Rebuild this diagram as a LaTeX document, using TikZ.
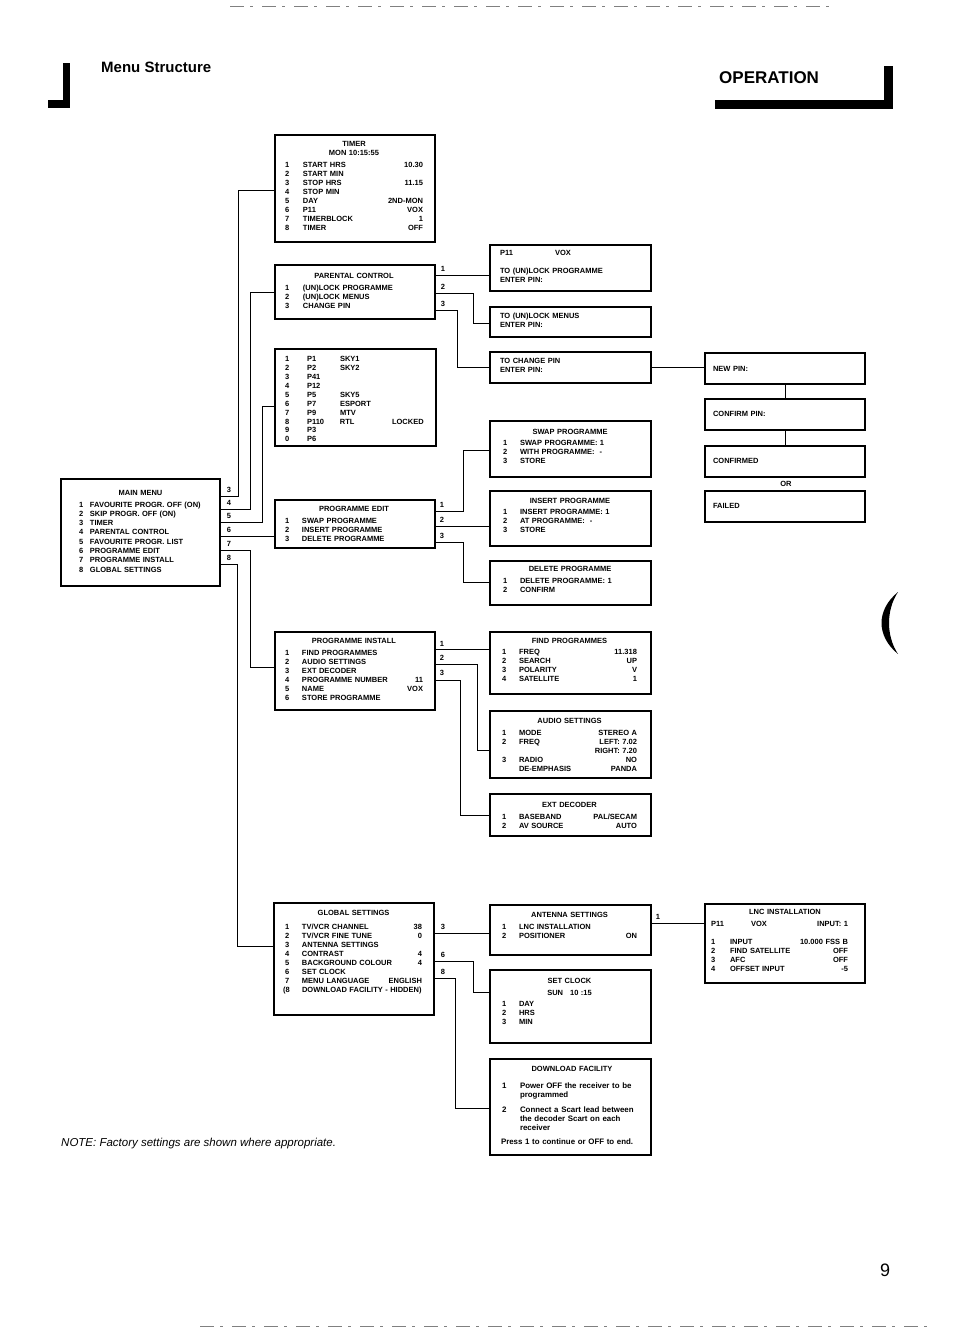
\documentclass[tikz,border=0pt]{standalone}
\usepackage{fontspec}
\setmainfont{Liberation Sans}
\newlength\nw
\newcommand\st{\rule{0pt}{6pt}}
\newcommand\rw[3]{\makebox[\nw][l]{#1}#2\hfill#3}
\newcommand\ttl[1]{\makebox[\linewidth][c]{#1}}
\newcommand\ch[4]{\makebox[22pt][l]{#1}\makebox[33pt][l]{#2}\makebox[52pt][l]{#3}#4}
\tikzset{
  bx/.style={draw, line width=1.5pt, anchor=north west, inner sep=0pt, outer sep=0pt},
  tx/.style={anchor=north west, inner sep=0pt, outer sep=0pt, align=left, font=\fontsize{7.5}{9}\selectfont\bfseries},
  lbl/.style={inner sep=0pt, font=\fontsize{7.5}{9}\selectfont\bfseries},
  conn/.style={line width=0.9pt},
}
\begin{document}
\begin{tikzpicture}[x=1pt,y=-1pt]
\fill[white] (0,0) rectangle (954,1340);
\useasboundingbox (0,0) rectangle (954,1340);

% ---------- header ----------
\fill (63,63) rectangle (70,108);
\fill (48,100) rectangle (70,108);
\fill (884,66) rectangle (893,109);
\fill (715,100) rectangle (893,109);
\node[anchor=west, inner sep=0pt, font=\fontsize{15}{15}\selectfont\bfseries] (hdr) at (101,67) {Menu Structure};
\node[anchor=west, inner sep=0pt, font=\fontsize{17}{17}\selectfont\bfseries] (oper) at (719,78) {OPERATION};
\draw[gray, line width=0.6pt, dash pattern=on 14pt off 6pt on 3pt off 9pt] (230,6) -- (835,6);
\draw[gray, line width=0.6pt, dash pattern=on 14pt off 6pt on 3pt off 9pt] (200,1326) -- (935,1326);
\fill (898,592) .. controls (876,610) and (876,636) .. (898,654) .. controls (886,636) and (886,610) .. (898,592);

% ---------- left column ----------
\node[bx,minimum width=160,minimum height=107] (timer) at (275,135) {};
\node[tx,text width=138] (timer-t) at (285,140.7) {\setlength\nw{18pt}\st\ttl{TIMER}\\ \ttl{MON 10:15:55}\\[3pt]
\rw{1}{START HRS}{10.30}\\ \rw{2}{START MIN}{}\\ \rw{3}{STOP HRS}{11.15}\\ \rw{4}{STOP MIN}{}\\
\rw{5}{DAY}{2ND-MON}\\ \rw{6}{P11}{VOX}\\ \rw{7}{TIMERBLOCK}{1}\\ \rw{8}{TIMER}{OFF}};

\node[bx,minimum width=160,minimum height=54] (parental) at (275,265) {};
\node[tx,text width=138] (parental-t) at (285,272.7) {\setlength\nw{18pt}\st\ttl{PARENTAL CONTROL}\\[3pt]
\rw{1}{(UN)LOCK PROGRAMME}{}\\ \rw{2}{(UN)LOCK MENUS}{}\\ \rw{3}{CHANGE PIN}{}};

\node[bx,minimum width=161,minimum height=97] (chan) at (275,349) {};
\node[tx,text width=138,font=\fontsize{7.5}{8.9}\selectfont\bfseries] (chan-t) at (285,355.7) {\st\ch{1}{P1}{SKY1}{}\\
\ch{2}{P2}{SKY2}{}\\ \ch{3}{P41}{}{}\\ \ch{4}{P12}{}{}\\ \ch{5}{P5}{SKY5}{}\\ \ch{6}{P7}{ESPORT}{}\\
\ch{7}{P9}{MTV}{}\\ \ch{8}{P110}{RTL}{LOCKED}\\ \ch{9}{P3}{}{}\\ \ch{0}{P6}{}{}};

\node[bx,minimum width=159,minimum height=107] (main) at (61,479) {};
\node[tx,text width=123,font=\fontsize{7.5}{9.3}\selectfont\bfseries] (main-t) at (79,489.7) {\setlength\nw{11pt}\st\ttl{MAIN MENU}\\[2pt]
\rw{1}{FAVOURITE PROGR. OFF (ON)}{}\\ \rw{2}{SKIP PROGR. OFF (ON)}{}\\ \rw{3}{TIMER}{}\\ \rw{4}{PARENTAL CONTROL}{}\\
\rw{5}{FAVOURITE PROGR. LIST}{}\\ \rw{6}{PROGRAMME EDIT}{}\\ \rw{7}{PROGRAMME INSTALL}{}\\ \rw{8}{GLOBAL SETTINGS}{}};

\node[bx,minimum width=160,minimum height=48] (pedit) at (275,500) {};
\node[tx,text width=138] (pedit-t) at (285,505.7) {\setlength\nw{17pt}\st\ttl{PROGRAMME EDIT}\\[3pt]
\rw{1}{SWAP PROGRAMME}{}\\ \rw{2}{INSERT PROGRAMME}{}\\ \rw{3}{DELETE PROGRAMME}{}};

\node[bx,minimum width=160,minimum height=78] (pinst) at (275,632) {};
\node[tx,text width=138] (pinst-t) at (285,637.7) {\setlength\nw{17pt}\st\ttl{PROGRAMME INSTALL}\\[3pt]
\rw{1}{FIND PROGRAMMES}{}\\ \rw{2}{AUDIO SETTINGS}{}\\ \rw{3}{EXT DECODER}{}\\ \rw{4}{PROGRAMME NUMBER}{11}\\
\rw{5}{NAME}{VOX}\\ \rw{6}{STORE PROGRAMME}{}};

\node[bx,minimum width=160,minimum height=112] (glob) at (274,903) {};
\node[tx,text width=137] (glob-t) at (285,909.7) {\setlength\nw{17pt}\st\ttl{GLOBAL SETTINGS}\\[5pt]
\rw{1}{TV/VCR CHANNEL}{38}\\ \rw{2}{TV/VCR FINE TUNE}{0}\\ \rw{3}{ANTENNA SETTINGS}{}\\ \rw{4}{CONTRAST}{4}\\
\rw{5}{BACKGROUND COLOUR}{4}\\ \rw{6}{SET CLOCK}{}\\ \rw{7}{MENU LANGUAGE}{ENGLISH}\\
\rw{\hspace*{-2pt}(8}{DOWNLOAD FACILITY - HIDDEN)}{}};

% ---------- middle column ----------
\node[bx,minimum width=161,minimum height=46] (p11) at (490,245) {};
\node[tx,text width=140] (p11-t) at (500,249.7) {\st\makebox[55pt][l]{P11}VOX\\[9pt] TO (UN)LOCK PROGRAMME\\ ENTER PIN:};

\node[bx,minimum width=161,minimum height=30] (ulm) at (490,307) {};
\node[tx,text width=140] (ulm-t) at (500,312.7) {\st TO (UN)LOCK MENUS\\ ENTER PIN:};

\node[bx,minimum width=161,minimum height=31] (cpin) at (490,352) {};
\node[tx,text width=140] (cpin-t) at (500,357.7) {\st TO CHANGE PIN\\ ENTER PIN:};

\node[bx,minimum width=161,minimum height=56] (swap) at (490,421) {};
\node[tx,text width=134] (swap-t) at (503,428.7) {\setlength\nw{17pt}\st\ttl{SWAP PROGRAMME}\\[2pt]
\rw{1}{SWAP PROGRAMME: 1}{}\\ \rw{2}{WITH PROGRAMME:\ \ -}{}\\ \rw{3}{STORE}{}};

\node[bx,minimum width=161,minimum height=55] (insert) at (490,491) {};
\node[tx,text width=134] (insert-t) at (503,497.7) {\setlength\nw{17pt}\st\ttl{INSERT PROGRAMME}\\[2pt]
\rw{1}{INSERT PROGRAMME: 1}{}\\ \rw{2}{AT PROGRAMME:\ \ -}{}\\ \rw{3}{STORE}{}};

\node[bx,minimum width=161,minimum height=44] (delete) at (490,561) {};
\node[tx,text width=134] (delete-t) at (503,565.7) {\setlength\nw{17pt}\st\ttl{DELETE PROGRAMME}\\[3pt]
\rw{1}{DELETE PROGRAMME: 1}{}\\ \rw{2}{CONFIRM}{}};

\node[bx,minimum width=161,minimum height=62] (find) at (490,632) {};
\node[tx,text width=135] (find-t) at (502,637.7) {\setlength\nw{17pt}\st\ttl{FIND PROGRAMMES}\\[2pt]
\rw{1}{FREQ}{11.318}\\ \rw{2}{SEARCH}{UP}\\ \rw{3}{POLARITY}{V}\\ \rw{4}{SATELLITE}{1}};

\node[bx,minimum width=161,minimum height=67] (audio) at (490,711) {};
\node[tx,text width=135] (audio-t) at (502,717.7) {\setlength\nw{17pt}\st\ttl{AUDIO SETTINGS}\\[3pt]
\rw{1}{MODE}{STEREO A}\\ \rw{2}{FREQ}{LEFT: 7.02}\\ \rw{}{}{RIGHT: 7.20}\\ \rw{3}{RADIO}{NO}\\ \rw{}{DE-EMPHASIS}{PANDA}};

\node[bx,minimum width=161,minimum height=42] (ext) at (490,794) {};
\node[tx,text width=135] (ext-t) at (502,801.7) {\setlength\nw{17pt}\st\ttl{EXT DECODER}\\[3pt]
\rw{1}{BASEBAND}{PAL/SECAM}\\ \rw{2}{AV SOURCE}{AUTO}};

\node[bx,minimum width=161,minimum height=50] (ant) at (490,905) {};
\node[tx,text width=135] (ant-t) at (502,911.7) {\setlength\nw{17pt}\st\ttl{ANTENNA SETTINGS}\\[3pt]
\rw{1}{LNC INSTALLATION}{}\\ \rw{2}{POSITIONER}{ON}};

\node[bx,minimum width=161,minimum height=73] (clock) at (490,970) {};
\node[tx,text width=135] (clock-t) at (502,977.7) {\setlength\nw{17pt}\st\ttl{SET CLOCK}\\[3pt]
\ttl{SUN\hspace{7pt}10 :15}\\[2pt] \rw{1}{DAY}{}\\ \rw{2}{HRS}{}\\ \rw{3}{MIN}{}};

\node[bx,minimum width=161,minimum height=96] (dl) at (490,1059) {};
\node[tx,text width=140,font=\fontsize{7.9}{9}\selectfont\bfseries] (dl-t) at (502,1065.7) {\setlength\nw{18pt}\st\ttl{\fontsize{7.5}{9}\selectfont DOWNLOAD FACILITY}\\[8pt]
\rw{1}{Power OFF the receiver to be}{}\\ \rw{}{programmed}{}\\[6pt]
\rw{2}{Connect a Scart lead between}{}\\ \rw{}{the decoder Scart on each}{}\\ \rw{}{receiver}{}\\[5pt]
\hspace*{-1pt}Press 1 to continue or OFF to end.};

% ---------- right column ----------
\node[bx,minimum width=160,minimum height=31] (newpin) at (705,353) {};
\node[tx,text width=140] (newpin-t) at (713,365.7) {\st NEW PIN:};
\node[bx,minimum width=160,minimum height=31] (confirm) at (705,399) {};
\node[tx,text width=140] (confirm-t) at (713,410.7) {\st CONFIRM PIN:};
\node[bx,minimum width=160,minimum height=31] (confirmed) at (705,446) {};
\node[tx,text width=140] (confirmed-t) at (713,457.7) {\st CONFIRMED};
\node[lbl] (or) at (786,484) {OR};
\node[bx,minimum width=160,minimum height=31] (failed) at (705,491) {};
\node[tx,text width=140] (failed-t) at (713,502.7) {\st FAILED};

\node[bx,minimum width=160,minimum height=79] (lnc) at (705,904) {};
\node[tx,text width=137] (lnc-t) at (711,908.7) {\setlength\nw{19pt}\st\ttl{\hspace*{11pt}LNC INSTALLATION}\\[3pt]
\makebox[40pt][l]{P11}VOX\hfill INPUT: 1\\[9pt]
\rw{1}{INPUT}{10.000 FSS B}\\ \rw{2}{FIND SATELLITE}{OFF}\\ \rw{3}{AFC}{OFF}\\ \rw{4}{OFFSET INPUT}{-5}};

% ---------- connectors: main menu ----------
\draw[conn] (main.east |- 0,496) -- (238,496) -- (238,190) -- (timer.west |- 0,190);
\draw[conn] (main.east |- 0,509) -- (250,509) -- (250,292) -- (parental.west |- 0,292);
\draw[conn] (main.east |- 0,522) -- (262,522) -- (262,406) -- (chan.west |- 0,406);
\draw[conn] (main.east |- 0,536) -- (pedit.west |- 0,536);
\draw[conn] (main.east |- 0,550) -- (250,550) -- (250,667) -- (pinst.west |- 0,667);
\draw[conn] (main.east |- 0,564) -- (237,564) -- (237,946) -- (glob.west |- 0,946);
\node[lbl] (lm3) at (229,490) {3};
\node[lbl] (lm4) at (229,503) {4};
\node[lbl] (lm5) at (229,516) {5};
\node[lbl] (lm6) at (229,530) {6};
\node[lbl] (lm7) at (229,544) {7};
\node[lbl] (lm8) at (229,558) {8};

% parental control
\draw[conn] (parental.east |- 0,275) -- (p11.west |- 0,275);
\draw[conn] (parental.east |- 0,293) -- (473,293) -- (473,323) -- (ulm.west |- 0,323);
\draw[conn] (parental.east |- 0,310) -- (457,310) -- (457,367) -- (cpin.west |- 0,367);
\draw[conn] (cpin.east |- 0,367) -- (newpin.west |- 0,367);
\draw[conn] (newpin.south) -- (confirm.north);
\draw[conn] (confirm.south) -- (confirmed.north);
\node[lbl] (lp1) at (443,269) {1};
\node[lbl] (lp2) at (443,287) {2};
\node[lbl] (lp3) at (443,304) {3};

% programme edit
\draw[conn] (pedit.east |- 0,511) -- (463,511) -- (463,450) -- (swap.west |- 0,450);
\draw[conn] (pedit.east |- 0,526) -- (insert.west |- 0,526);
\draw[conn] (pedit.east |- 0,542) -- (463,542) -- (463,582) -- (delete.west |- 0,582);
\node[lbl] (le1) at (442,505) {1};
\node[lbl] (le2) at (442,520) {2};
\node[lbl] (le3) at (442,536) {3};

% programme install
\draw[conn] (pinst.east |- 0,649) -- (find.west |- 0,649);
\draw[conn] (pinst.east |- 0,664) -- (477,664) -- (477,750) -- (audio.west |- 0,750);
\draw[conn] (pinst.east |- 0,680) -- (460,680) -- (460,815) -- (ext.west |- 0,815);
\node[lbl] (li1) at (442,644) {1};
\node[lbl] (li2) at (442,658) {2};
\node[lbl] (li3) at (442,673) {3};

% global settings
\draw[conn] (glob.east |- 0,933) -- (ant.west |- 0,933);
\draw[conn] (glob.east |- 0,961) -- (473,961) -- (473,992) -- (clock.west |- 0,992);
\draw[conn] (glob.east |- 0,978) -- (455,978) -- (455,1108) -- (dl.west |- 0,1108);
\draw[conn] (ant.east |- 0,923) -- (lnc.west |- 0,923);
\node[lbl] (lg3) at (443,927) {3};
\node[lbl] (lg6) at (443,955) {6};
\node[lbl] (lg8) at (443,972) {8};
\node[lbl] (la1) at (658,917) {1};

% ---------- footer ----------
\node[anchor=west, inner sep=0pt, font=\fontsize{11.5}{12}\selectfont\itshape] (note) at (61,1144) {NOTE: Factory settings are shown where appropriate.};
\node[inner sep=0pt, font=\fontsize{18}{18}\selectfont] (pg) at (885,1270) {9};
\end{tikzpicture}
\end{document}
